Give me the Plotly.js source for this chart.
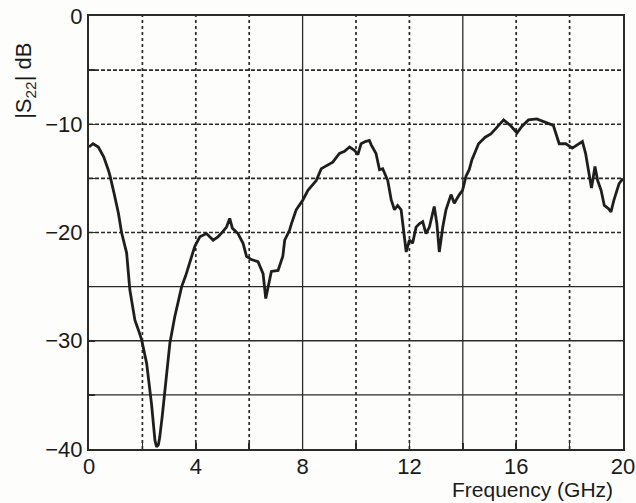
<!DOCTYPE html>
<html>
<head>
<meta charset="utf-8">
<script src="https://cdn.plot.ly/plotly-3.0.1.min.js"></script>
<style>html,body{margin:0;padding:0;background:#fdfdfb;}#chart{width:636px;height:503px;}</style>
</head>
<body>
<div id="chart"></div>
<script>
const freqGHz = [0.0,0.15,0.35,0.55,0.72,0.79,0.95,1.1,1.22,1.32,1.41,1.53,1.63,1.72,1.85,1.97,2.16,2.34,2.47,2.53,2.6,2.65,2.75,2.84,3.03,3.21,3.47,3.62,3.78,3.96,4.15,4.4,4.65,4.83,5.02,5.15,5.27,5.37,5.58,5.77,5.9,6.08,6.33,6.52,6.62,6.7,6.83,7.08,7.26,7.33,7.51,7.58,7.76,7.9,8.01,8.2,8.35,8.51,8.7,8.89,9.13,9.38,9.57,9.76,9.94,10.07,10.19,10.35,10.5,10.57,10.75,10.88,11.0,11.19,11.32,11.44,11.56,11.69,11.81,11.88,12.0,12.12,12.25,12.37,12.5,12.62,12.75,12.93,13.03,13.12,13.25,13.37,13.56,13.68,13.87,13.99,14.12,14.24,14.34,14.59,14.84,15.05,15.2,15.38,15.53,15.78,16.03,16.21,16.46,16.77,17.08,17.25,17.39,17.61,17.86,18.1,18.29,18.48,18.6,18.73,18.82,18.95,19.05,19.18,19.3,19.46,19.55,19.66,19.85,20.0];
const s22dB = [-12.1,-11.8,-12.1,-13.0,-14.2,-14.8,-16.5,-18.2,-20.0,-21.0,-21.9,-25.3,-26.8,-28.1,-29.0,-29.9,-32.1,-35.8,-39.2,-39.8,-39.6,-38.9,-36.8,-34.5,-30.2,-27.8,-25.0,-24.0,-22.8,-21.3,-20.4,-20.1,-20.7,-20.4,-19.9,-19.5,-18.7,-19.6,-20.1,-21.0,-22.2,-22.5,-22.7,-23.8,-26.1,-25.0,-23.6,-23.5,-22.2,-20.7,-19.8,-19.2,-17.9,-17.4,-17.0,-16.1,-15.7,-15.2,-14.1,-13.8,-13.5,-12.7,-12.5,-12.1,-12.4,-12.8,-11.8,-11.6,-11.5,-11.9,-12.7,-14.2,-14.1,-15.2,-17.0,-17.9,-17.5,-17.9,-20.1,-21.8,-20.7,-21.0,-19.5,-19.2,-19.0,-20.1,-19.5,-17.6,-19.2,-21.8,-19.5,-17.9,-16.5,-17.3,-16.5,-16.1,-14.8,-14.2,-13.3,-11.8,-11.2,-10.9,-10.5,-10.0,-9.6,-10.1,-10.8,-10.2,-9.6,-9.5,-9.8,-9.9,-10.1,-11.8,-11.8,-12.2,-11.9,-11.6,-12.7,-14.5,-15.9,-13.9,-15.2,-16.1,-17.5,-17.8,-18.1,-17.0,-15.5,-15.0];
const xTickVals = [0,4,8,12,16,20];
const xTickText = ['0','4','8','12','16','20'];
const yTickVals = [0,-10,-20,-30,-40];
const yTickText = ['0','\u221210','\u221220','\u221230','\u221240'];
const xGridDotted = [2,4,6,10,12,16,18];
const xGridSolid = [8,14];
const yGridDashed = [-5,-10,-15,-20];
const yGridSolid = [-25,-30,-35];
const yTitle = '|S<sub>22</sub>| dB';
const xTitle = 'Frequency (GHz)';

const ink = '#2a2a2a';
const shapes = [];
const vline = (v, dash, w) => ({type:'line', xref:'x', yref:'paper', x0:v, x1:v, y0:0, y1:1, line:{color:ink, width:w, dash:dash}, layer:'below'});
const hline = (v, dash, w) => ({type:'line', xref:'paper', yref:'y', x0:0, x1:1, y0:v, y1:v, line:{color:ink, width:w, dash:dash}, layer:'below'});
xGridDotted.forEach(v => shapes.push(vline(v, 'dot', 1.7)));
xGridSolid.forEach(v => shapes.push(vline(v, 'solid', 1.3)));
yGridDashed.forEach(v => shapes.push(hline(v, '4px,2px', 1.7)));
yGridSolid.forEach(v => shapes.push(hline(v, 'solid', 1.3)));

const trace = {x:freqGHz, y:s22dB, type:'scatter', mode:'lines', line:{color:'#1e1e1e', width:2.8}, hoverinfo:'skip'};

const axisCommon = {
  tickmode:'array', ticks:'inside', ticklen:6, tickwidth:1.5, tickcolor:ink,
  showgrid:false, showline:true, linecolor:ink, linewidth:2, mirror:true, zeroline:false,
  tickfont:{size:22}, fixedrange:true
};

const layout = {
  width:636, height:503,
  margin:{l:89, r:13, t:16, b:54},
  paper_bgcolor:'#fdfdfb', plot_bgcolor:'#fdfdfb',
  font:{family:'Liberation Sans, Arial, sans-serif', size:22, color:'#1a1a1a'},
  showlegend:false,
  xaxis:Object.assign({range:[0,20], tickvals:xTickVals, ticktext:xTickText, ticklabelstandoff:-3,
    minor:{dtick:2, tick0:0, ticks:'inside', ticklen:6, tickwidth:1.5, tickcolor:ink, showgrid:false}}, axisCommon),
  yaxis:Object.assign({range:[-40,0], tickvals:yTickVals, ticktext:yTickText,
    minor:{dtick:5, tick0:0, ticks:'inside', ticklen:6, tickwidth:1.5, tickcolor:ink, showgrid:false}}, axisCommon),
  shapes:shapes,
  annotations:[
    {text:yTitle, xref:'paper', yref:'paper', x:-0.12, y:0.85, xanchor:'center', yanchor:'middle', textangle:-90, showarrow:false, font:{size:22}},
    {text:xTitle, xref:'paper', yref:'paper', x:0.985, y:-0.0945, xanchor:'right', yanchor:'middle', showarrow:false, font:{size:21}}
  ]
};
Plotly.newPlot('chart', [trace], layout, {staticPlot:true, displayModeBar:false});
</script>
</body>
</html>
